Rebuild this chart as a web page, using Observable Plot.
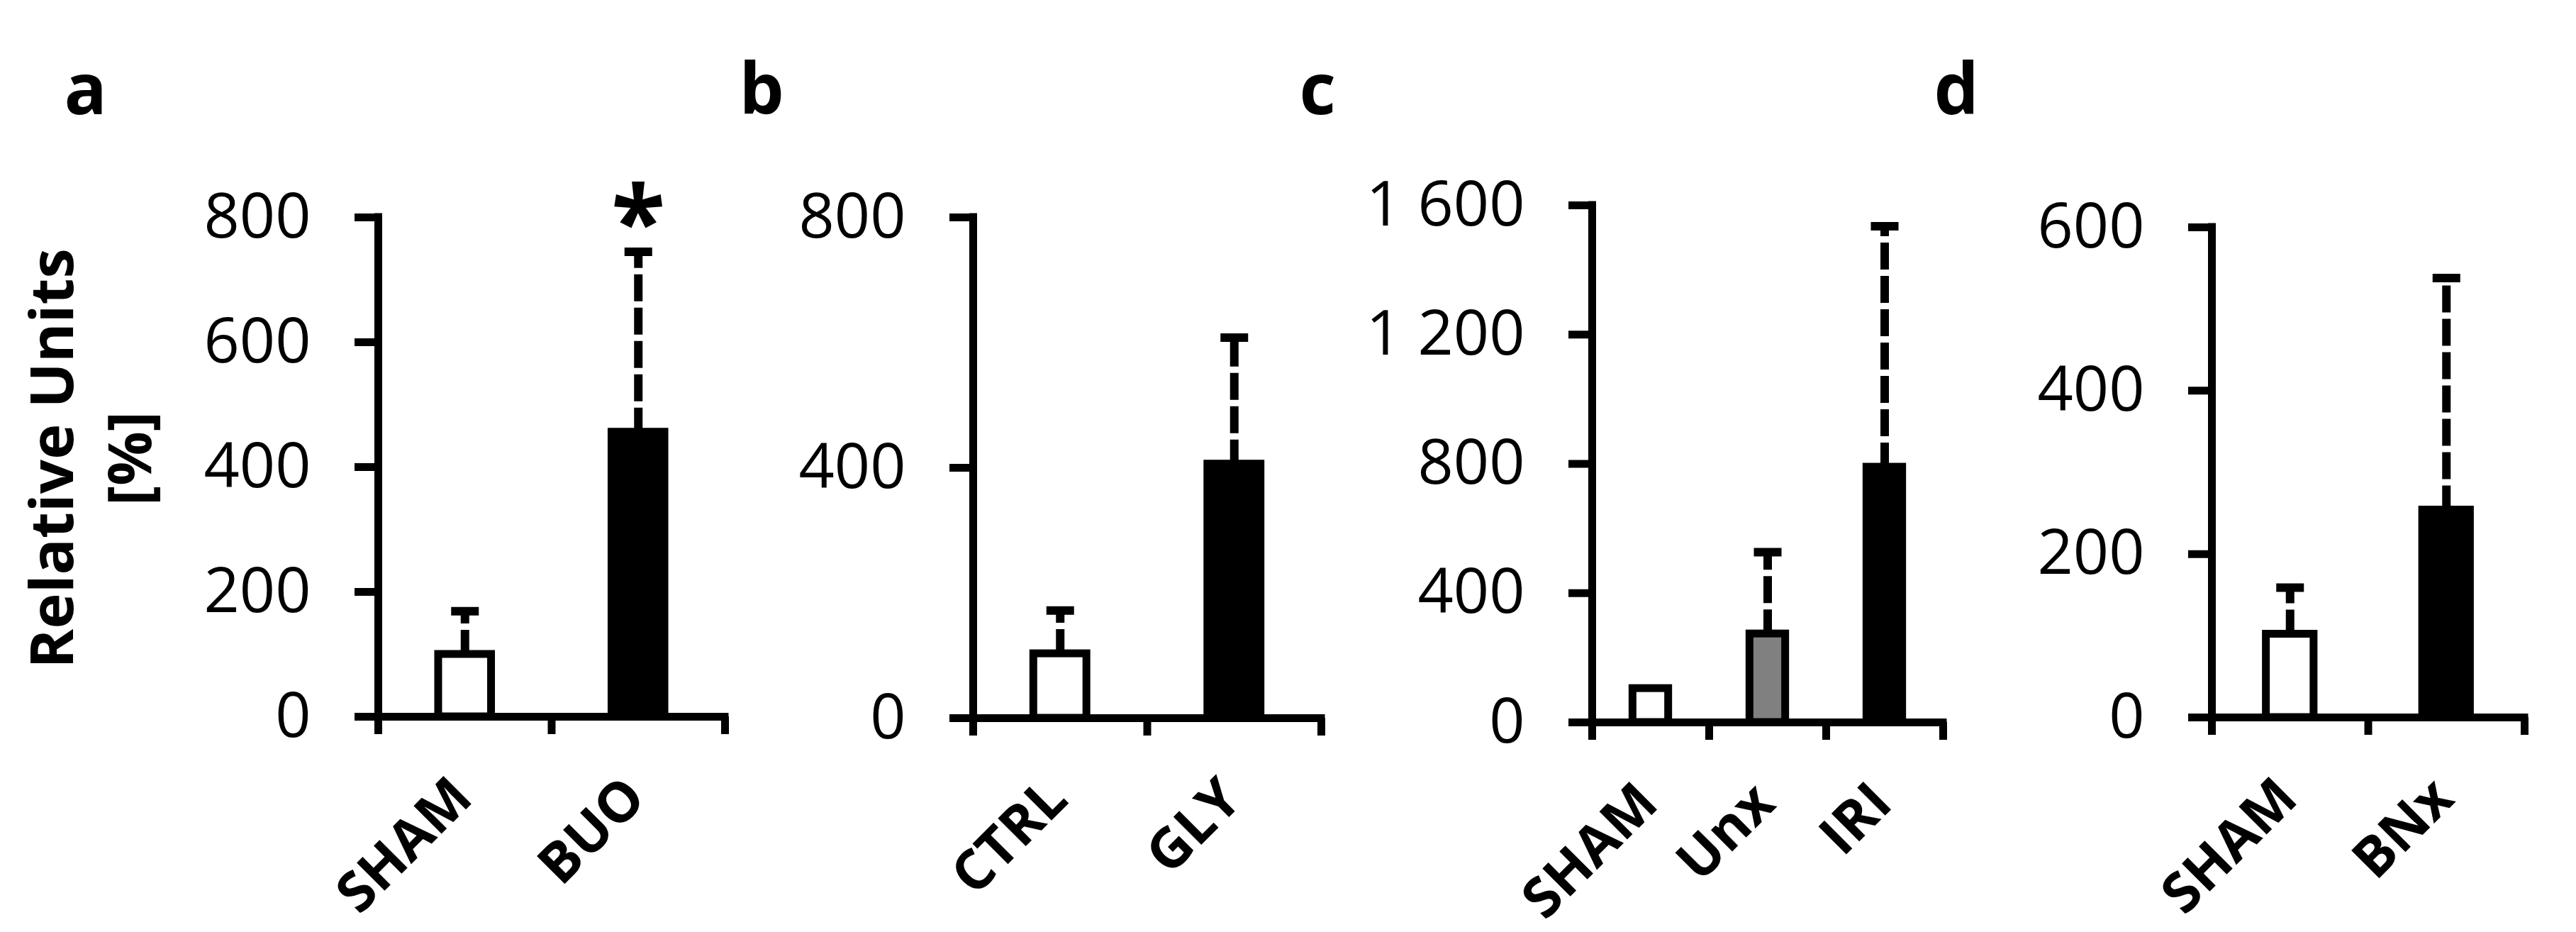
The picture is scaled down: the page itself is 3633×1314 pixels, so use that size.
<!DOCTYPE html>
<html><head><meta charset="utf-8">
<script src="https://cdn.jsdelivr.net/npm/d3@7"></script>
<script src="https://cdn.jsdelivr.net/npm/@observablehq/plot@0.6"></script>
<style>
html,body{margin:0;padding:0;background:#fff;}
#fig{position:relative;width:3633px;height:1314px;background:#fff;overflow:hidden;}
#fig svg{position:absolute;left:0;top:0;}
</style></head><body><div id="fig"></div>
<script>
// ---- data ----
const panelLetters = ["a", "b", "c", "d"];

const categoriesA = ["SHAM", "BUO"];
const meansA = [100, 456];
const errorsA = [69, 289];
const groupsA = ["control", "injury"];
const signifA = ["", "*"];
const ticksA = [0, 200, 400, 600, 800];

const categoriesB = ["CTRL", "GLY"];
const meansB = [103, 406];
const errorsB = [69, 202];
const groupsB = ["control", "injury"];
const signifB = ["", ""];
const ticksB = [0, 400, 800];

const categoriesC = ["SHAM", "Unx", "IRI"];
const meansC = [105, 274, 790];
const errorsC = [null, 253, 745];
const groupsC = ["control", "intermediate", "injury"];
const signifC = ["", "", ""];
const ticksC = [0, 400, 800, 1200, 1600];

const categoriesD = ["SHAM", "BNx"];
const meansD = [102, 254];
const errorsD = [57, 284];
const groupsD = ["control", "injury"];
const signifD = ["", ""];
const ticksD = [0, 200, 400, 600];

const yTitle = "Relative Units\n[%]";

// ---- layout / style ----
const W = 3633, H = 1314;
const layout = [
  {x0: 533, x1: 1022, yTop: 306, yBot: 1010, letterX: 90, title: true},
  {x0: 1372, x1: 1863, yTop: 306, yBot: 1012, letterX: 1042},
  {x0: 2245, x1: 2740, yTop: 289, yBot: 1018, letterX: 1832},
  {x0: 3119, x1: 3560, yTop: 320, yBot: 1011, letterX: 2727}
];
const panels = [
  {cats: categoriesA, means: meansA, errs: errorsA, groups: groupsA, sig: signifA, ticks: ticksA},
  {cats: categoriesB, means: meansB, errs: errorsB, groups: groupsB, sig: signifB, ticks: ticksB},
  {cats: categoriesC, means: meansC, errs: errorsC, groups: groupsC, sig: signifC, ticks: ticksC},
  {cats: categoriesD, means: meansD, errs: errorsD, groups: groupsD, sig: signifD, ticks: ticksD}
];
const FONT = "'Open Sans', 'Noto Sans', sans-serif";
const SW = 11;           // line width
const barFrac = 0.305;   // bar width as fraction of category slot
const fmt = d3.formatLocale({decimal: ".", thousands: " ", grouping: [3], currency: ["", ""]}).format(",");
const capSymbol = {draw(ctx, size) { const h = Math.sqrt(size / Math.PI); ctx.moveTo(-h, 0); ctx.lineTo(h, 0); }};

const fig = document.getElementById("fig");

panels.forEach((p, k) => {
  const L = layout[k];
  const n = p.cats.length;
  const yMax = p.ticks[p.ticks.length - 1];
  const data = p.cats.map((c, i) => ({
    cat: c, i, xc: i + 0.5, mean: p.means[i], err: p.errs[i], group: p.groups[i], sig: p.sig[i]
  }));
  const errData = data.filter(d => d.err != null);
  const sigData = data.filter(d => d.sig && d.err != null);

  const marks = [
    // bars
    Plot.rectY(data, {
      x1: d => d.i + (1 - barFrac) / 2, x2: d => d.i + (1 + barFrac) / 2,
      y: "mean", fill: "group", stroke: "black", strokeWidth: SW
    }),
    // dashed error stems
    Plot.ruleX(errData, {
      x: "xc", y1: "mean", y2: d => d.mean + d.err,
      stroke: "black", strokeWidth: 12, strokeDasharray: "38 9", strokeDashoffset: 4
    }),
    // error caps
    Plot.dot(errData, {
      x: "xc", y: d => d.mean + d.err, symbol: capSymbol, r: 19.5,
      stroke: "black", strokeWidth: 12, fill: "none"
    }),
    // significance markers
    Plot.text(sigData, {
      x: "xc", y: d => d.mean + d.err, text: "sig",
      fontSize: 140, fontWeight: "bold", lineAnchor: "bottom", dy: 8, fill: "black"
    }),
    // axes lines
    Plot.ruleY([0], {stroke: "black", strokeWidth: SW, strokeLinecap: "square"}),
    Plot.ruleX([0], {y1: 0, y2: yMax, stroke: "black", strokeWidth: SW, strokeLinecap: "square"}),
    // y ticks + labels
    Plot.axisY({
      ticks: p.ticks, tickSize: 33, tickPadding: 62, tickFormat: fmt,
      fontSize: 88, strokeWidth: SW, stroke: "black", fill: "black", label: null
    }),
    // x boundary ticks
    Plot.axisX({
      ticks: d3.range(n + 1), tickSize: 25, tickFormat: () => "",
      strokeWidth: SW, stroke: "black", label: null
    }),
    // category labels
    Plot.text(data, {
      x: "xc", frameAnchor: "bottom", text: "cat", rotate: -45,
      textAnchor: "end", lineAnchor: "bottom", dx: 14, dy: 118,
      fontSize: 78, fontWeight: "bold", fill: "black"
    }),
    // panel letter
    Plot.text([panelLetters[k]], {
      frameAnchor: "top-left", text: d => d, textAnchor: "start", lineAnchor: "bottom",
      dx: L.letterX - L.x0, dy: 160 - L.yTop, fontSize: 100, fontWeight: "bold", fill: "black"
    })
  ];
  if (L.title) {
    marks.push(Plot.text([yTitle], {
      frameAnchor: "left", text: d => d, rotate: -90, textAnchor: "middle", lineAnchor: "middle",
      lineHeight: 1.3, dx: 122 - L.x0, dy: -12, fontSize: 85, fontWeight: "bold", fill: "black"
    }));
  }

  const chart = Plot.plot({
    width: W, height: H,
    marginLeft: L.x0, marginRight: W - L.x1,
    marginTop: L.yTop, marginBottom: H - L.yBot,
    style: {background: "transparent", fontFamily: FONT, color: "black", overflow: "visible"},
    x: {domain: [0, n]},
    y: {domain: [0, yMax]},
    color: {domain: ["control", "intermediate", "injury"], range: ["white", "#808080", "black"]},
    marks
  });
  fig.appendChild(chart);
});
</script>
</body></html>
